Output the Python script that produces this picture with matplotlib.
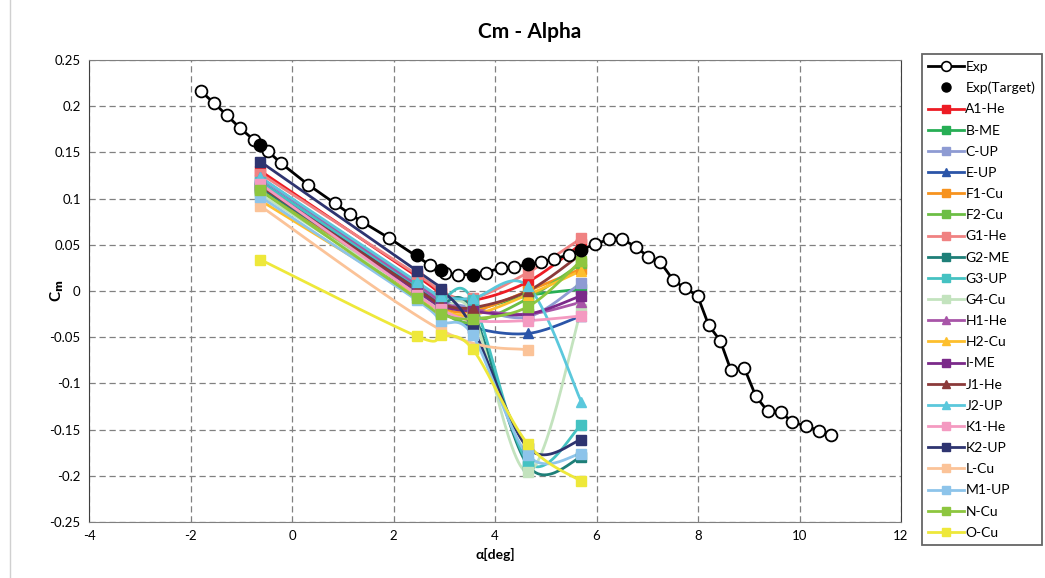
import numpy as np
import matplotlib
matplotlib.use("Agg")
import matplotlib.pyplot as plt

plt.rcParams['font.family'] = ['Lato', 'DejaVu Sans']
plt.rcParams['axes.unicode_minus'] = False

# experimental polar
exp_alpha = [-1.79, -1.53, -1.28, -1.02, -0.74, -0.47, -0.21, 0.32, 0.84, 1.15, 1.38, 1.92,
             2.72, 3.02, 3.28, 3.82, 4.11, 4.37, 4.91, 5.17, 5.46, 5.98, 6.25, 6.51, 6.77,
             7.02, 7.26, 7.51, 7.74, 7.99, 8.21, 8.44, 8.65, 8.91, 9.14, 9.37, 9.63, 9.86,
             10.12, 10.38, 10.63]
exp_cm = [0.216, 0.203, 0.190, 0.176, 0.163, 0.151, 0.138, 0.115, 0.095, 0.083, 0.075, 0.057,
          0.028, 0.020, 0.017, 0.020, 0.025, 0.026, 0.031, 0.035, 0.039, 0.051, 0.056, 0.056,
          0.048, 0.037, 0.031, 0.012, 0.003, -0.005, -0.037, -0.054, -0.086, -0.083, -0.114,
          -0.130, -0.131, -0.142, -0.146, -0.151, -0.156]

target_alpha = [-0.625, 2.46, 2.93, 3.56, 4.65, 5.70]
target_cm = [0.158, 0.039, 0.023, 0.017, 0.029, 0.044]

names = ["A1-He", "B-ME", "C-UP", "E-UP", "F1-Cu", "F2-Cu", "G1-He", "G2-ME", "G3-UP",
         "G4-Cu", "H1-He", "H2-Cu", "I-ME", "J1-He", "J2-UP", "K1-He", "K2-UP", "L-Cu",
         "M1-UP", "N-Cu", "O-Cu"]

cfd = {
    "A1-He": [0.130, 0.016, -0.002, -0.010, 0.010, 0.051],
    "B-ME":  [0.113, 0.003, -0.014, -0.020, -0.005, 0.002],
    "C-UP":  [0.120, 0.008, -0.010, -0.018, -0.028, 0.009],
    "E-UP":  [0.118, 0.004, -0.016, -0.039, -0.046, -0.027],
    "F1-Cu": [0.110, 0.001, -0.018, -0.022, 0.000, 0.024],
    "F2-Cu": [0.108, -0.004, -0.022, -0.034, -0.008, 0.030],
    "G1-He": [0.127, 0.018, 0.000, -0.008, 0.020, 0.057],
    "G2-ME": [0.112, 0.002, -0.012, -0.022, -0.189, -0.180],
    "G3-UP": [0.118, 0.006, -0.008, -0.010, -0.185, -0.145],
    "G4-Cu": [0.105, -0.002, -0.018, -0.025, -0.196, -0.020],
    "H1-He": [0.123, 0.007, -0.012, -0.020, -0.025, -0.012],
    "H2-Cu": [0.098, -0.006, -0.020, -0.026, -0.004, 0.022],
    "I-ME":  [0.115, 0.000, -0.016, -0.022, -0.025, -0.005],
    "J1-He": [0.114, 0.002, -0.014, -0.018, 0.000, 0.040],
    "J2-UP": [0.123, 0.010, -0.005, -0.008, 0.005, -0.120],
    "K1-He": [0.116, -0.004, -0.020, -0.032, -0.032, -0.027],
    "K2-UP": [0.140, 0.022, 0.002, -0.040, -0.170, -0.161],
    "M1-UP": [0.102, -0.010, -0.033, -0.048, -0.178, -0.176],
    "N-Cu":  [0.109, -0.008, -0.025, -0.030, -0.017, 0.033],
    "O-Cu":  [0.034, -0.049, -0.048, -0.063, -0.166, -0.206],
}
# L-Cu has no result at 2.46 and 5.70
lcu_alpha = [-0.625, 2.93, 4.65]
lcu_cm = [0.092, -0.042, -0.064]

colors = {
    "A1-He": "#ED1C24", "B-ME": "#27AE55", "C-UP": "#8E9BD3", "E-UP": "#2B55A8",
    "F1-Cu": "#F7931E", "F2-Cu": "#6CBE45", "G1-He": "#F08282", "G2-ME": "#1E7F78",
    "G3-UP": "#45C2C2", "G4-Cu": "#C3E3BE", "H1-He": "#A855A8", "H2-Cu": "#FDBF2D",
    "I-ME": "#7B2A8A", "J1-He": "#8B3A3A", "J2-UP": "#5BC8DC", "K1-He": "#F49AC1",
    "K2-UP": "#2E3470", "L-Cu": "#FBC398", "M1-UP": "#8DC4EA", "N-Cu": "#8DC63F",
    "O-Cu": "#EEE83A",
}
tri = ["E-UP", "H1-He", "H2-Cu", "J1-He", "J2-UP"]


def smooth(x, y, n=30):
    # excel-like smoothed line (catmull-rom in screen-ish units)
    sx, sy = 50.7, 924.0
    p = np.column_stack([np.asarray(x) * sx, np.asarray(y) * sy])
    if len(p) < 3:
        return x, y
    pts = np.vstack([p[0], p, p[-1]])
    out = []
    t = np.linspace(0, 1, n)[:, None]
    for i in range(1, len(pts) - 2):
        p0, p1, p2, p3 = pts[i - 1], pts[i], pts[i + 1], pts[i + 2]
        c1 = p1 + (p2 - p0) / 6
        c2 = p2 - (p3 - p1) / 6
        seg = (1 - t) ** 3 * p1 + 3 * (1 - t) ** 2 * t * c1 + 3 * (1 - t) * t ** 2 * c2 + t ** 3 * p2
        out.append(seg if i == 1 else seg[1:])
    out = np.vstack(out)
    return out[:, 0] / sx, out[:, 1] / sy


fig = plt.figure(figsize=(10.45, 5.78), dpi=100)
ax = fig.add_axes([0.0852, 0.0969, 0.7770, 0.7993])

handles = []
h, = ax.plot(exp_alpha, exp_cm, color="black", lw=2.0, marker="o", ms=8.5,
             mfc="white", mec="black", mew=1.3, zorder=5)
handles.append(plt.Line2D([], [], color="black", lw=2.0, marker="o", ms=7,
                          mfc="white", mec="black", mew=1.2, label="Exp"))
h, = ax.plot(target_alpha, target_cm, ls="none", marker="o", ms=9, color="black", zorder=6)
handles.append(plt.Line2D([], [], ls="none", marker="o", ms=6.5, color="black",
                          label="Exp(Target)"))

for name in names:
    c = colors[name]
    mk = "^" if name in tri else "s"
    if name == "L-Cu":
        xa, ya = lcu_alpha, lcu_cm
    else:
        xa, ya = target_alpha, cfd[name]
    xs, ys = smooth(xa, ya)
    ax.plot(xs, ys, color=c, lw=2.0, zorder=3)
    ax.plot(xa, ya, ls="none", marker=mk, ms=6.5, color=c, zorder=4)
    handles.append(plt.Line2D([], [], color=c, lw=2.0, marker=mk, ms=6, label=name))

ax.set_xlim(-4, 12)
ax.set_ylim(-0.25, 0.25)
ax.set_xticks(np.arange(-4, 13, 2))
ax.set_yticks(np.arange(-0.25, 0.26, 0.05))
ax.set_yticklabels(["-0.25", "-0.2", "-0.15", "-0.1", "-0.05", "0", "0.05", "0.1", "0.15", "0.2", "0.25"])
ax.tick_params(labelsize=9.5, length=0, pad=6)
ax.grid(True, ls=(0, (5, 3)), color="#808080", lw=0.9)
for s in ax.spines.values():
    s.set_color("#808080")
ax.spines["left"].set_color("#404040")
ax.spines["right"].set_color("#404040")

ax.set_xlabel("α[deg]", fontsize=10, fontweight="bold", labelpad=4)
ax.set_ylabel("C$_\\mathbf{m}$", fontsize=11, fontweight="bold")
ax.yaxis.set_label_coords(-0.028, 0.5)
fig.text(0.507, 0.945, "Cm - Alpha", ha="center", va="center", fontsize=15, fontweight="bold")

leg = fig.legend(handles=handles, loc="upper left", bbox_to_anchor=(0.882, 0.906),
                 fontsize=10, frameon=True, fancybox=False, edgecolor="#404040",
                 handlelength=2.6, handletextpad=0.1, labelspacing=0.66,
                 borderpad=0.45, borderaxespad=0)
leg.get_frame().set_linewidth(1.3)

# thin chart-area border on the left
fig.add_artist(plt.Line2D([10 / 1045, 10 / 1045], [0, 1], color="#d0d0d0", lw=1))

fig.savefig("out.png", dpi=100)
